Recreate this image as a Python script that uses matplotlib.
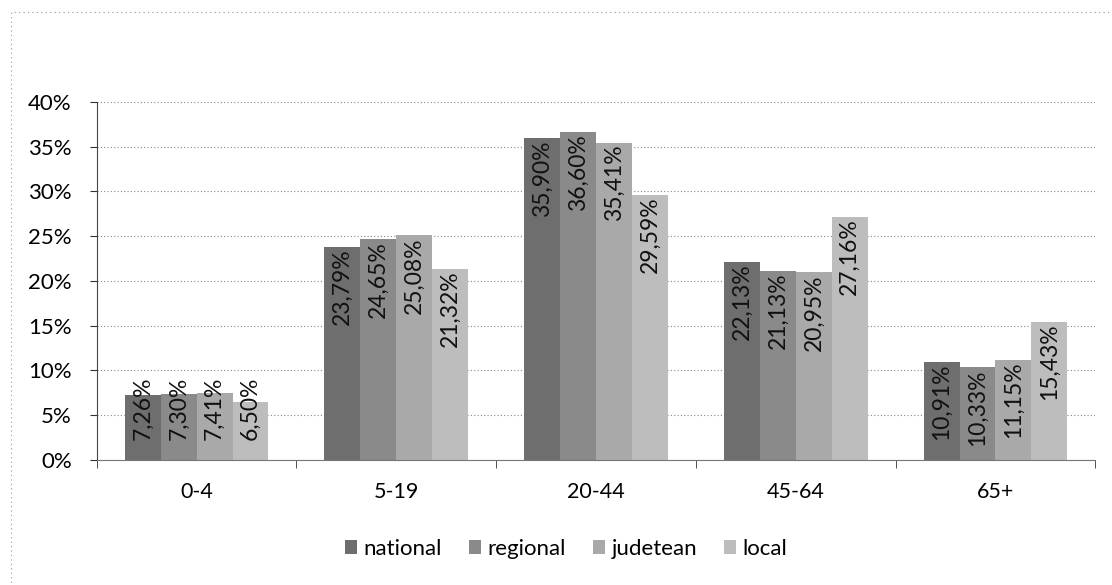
import numpy as np
import matplotlib.pyplot as plt
from matplotlib.patches import Rectangle

categories = ["0-4", "5-19", "20-44", "45-64", "65+"]
series = ["national", "regional", "judetean", "local"]
national = [7.26, 23.79, 35.90, 22.13, 10.91]
regional = [7.30, 24.65, 36.60, 21.13, 10.33]
judetean = [7.41, 25.08, 35.41, 20.95, 11.15]
local = [6.50, 21.32, 29.59, 27.16, 15.43]
values = [national, regional, judetean, local]
colors = ["#6e6e6e", "#8a8a8a", "#a9a9a9", "#bdbdbd"]

plt.rcParams['font.family'] = ['Lato', 'DejaVu Sans']

fig = plt.figure(figsize=(11.12, 5.85), dpi=100)
ax = fig.add_axes([0.087, 0.214, 0.898, 0.612])

x = np.arange(len(categories))
w = 0.18
for i, (name, vals) in enumerate(zip(series, values)):
    pos = x + (i - 1.5) * w
    ax.bar(pos, vals, width=w, color=colors[i], label=name, zorder=2)
    for p, v in zip(pos, vals):
        lbl = f"{v:.2f}%".replace(".", ",")
        if v < 9:
            # too short for an inside-end label: sit it near the base
            ax.text(p, 2.2, lbl, rotation=90, ha="center", va="bottom",
                    fontsize=16.5, color="#111111", zorder=3)
        else:
            ax.text(p, v - 0.2, lbl, rotation=90, ha="center", va="top",
                    fontsize=16.5, color="#111111", zorder=3)

ax.set_xlim(-0.5, len(categories) - 0.5)
ax.set_ylim(0, 40)
ax.set_yticks(range(0, 41, 5))
ax.set_yticklabels([f"{t}%" for t in range(0, 41, 5)], fontsize=16)
ax.set_xticks(x)
ax.set_xticklabels(categories, fontsize=15.5)
ax.tick_params(axis="x", length=0, pad=16)
ax.set_xticks(np.arange(-0.5, len(categories)), minor=True)
ax.tick_params(axis="x", which="minor", length=6, color="#333333")
ax.tick_params(axis="y", length=5, color="#333333", pad=13)
ax.yaxis.grid(True, linestyle=(0, (1, 2)), color="#888888", linewidth=0.8, zorder=0)
for s in ["top", "right"]:
    ax.spines[s].set_visible(False)
ax.spines["left"].set_color("#444444")
ax.spines["bottom"].set_color("#777777")
ax.spines["bottom"].set_linestyle((0, (2, 1)))

ax.legend(loc="upper center", bbox_to_anchor=(0.47, -0.165), ncol=4, frameon=False,
          fontsize=16, handlelength=0.55, handleheight=0.55, handletextpad=0.3,
          columnspacing=1.2)

fig.patches.append(Rectangle((0.01, -0.05), 1.2, 1.03, transform=fig.transFigure,
                             fill=False, edgecolor="#999999", linestyle=(0, (1, 3)),
                             linewidth=0.8))

fig.savefig("out.png", dpi=100)
